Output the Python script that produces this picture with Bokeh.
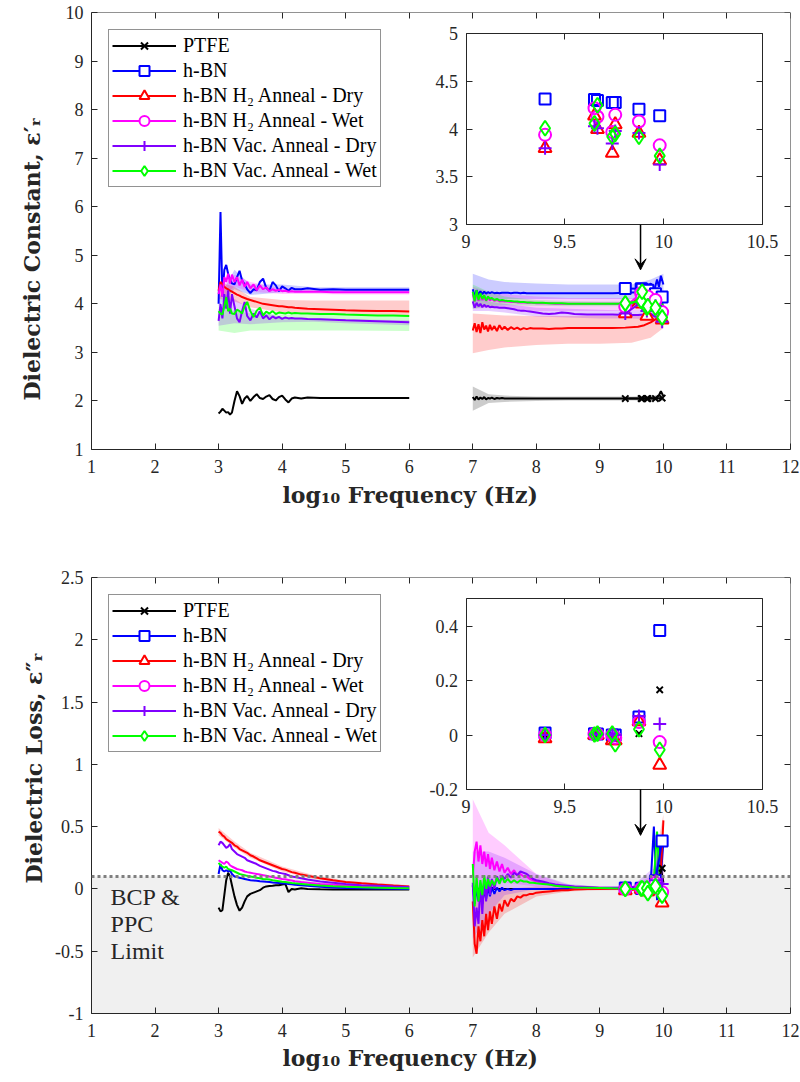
from bokeh.plotting import figure
from bokeh.models import (Range1d, LinearAxis, FixedTicker, Legend, LegendItem,
                          Span, Arrow, VeeHead, Label, Title)
from bokeh.layouts import column
from bokeh.embed import file_html
from bokeh.resources import INLINE

FONT = "Liberation Serif"
TITLE_FONT = "DejaVu Serif"
AXC = "#262626"

# ---------------- series meta ----------------
series_names = ["PTFE", "h-BN", "h-BN H₂ Anneal - Dry", "h-BN H₂ Anneal - Wet",
                "h-BN Vac. Anneal - Dry", "h-BN Vac. Anneal - Wet"]
series_colors = ["#000000", "#0000ff", "#ff0000", "#ff00ff", "#8000ff", "#00ff00"]
series_markers = ["x", "square", "triangle", "circle", "cross", "diamond"]
marker_sizes = [9, 11, 13, 12, 13, 15]

# ---------------- axes ----------------
X_LIM = (1, 12)
x_ticks = [1, 2, 3, 4, 5, 6, 7, 8, 9, 10, 11, 12]
x_tick_labels = ["1", "2", "3", "4", "5", "6", "7", "8", "9", "10", "11", "12"]
RE_Y_LIM = (1, 10)
re_y_ticks = [1, 2, 3, 4, 5, 6, 7, 8, 9, 10]
re_y_tick_labels = ["1", "2", "3", "4", "5", "6", "7", "8", "9", "10"]
IM_Y_LIM = (-1, 2.5)
im_y_ticks = [-1, -0.5, 0, 0.5, 1, 1.5, 2, 2.5]
im_y_tick_labels = ["-1", "-0.5", "0", "0.5", "1", "1.5", "2", "2.5"]
INSET_X_LIM = (9, 10.5)
inset_x_ticks = [9, 9.5, 10, 10.5]
inset_x_tick_labels = ["9", "9.5", "10", "10.5"]
RE_INSET_Y_LIM = (3, 5)
re_inset_y_ticks = [3, 3.5, 4, 4.5, 5]
re_inset_y_tick_labels = ["3", "3.5", "4", "4.5", "5"]
IM_INSET_Y_LIM = (-0.2, 0.5)
im_inset_y_ticks = [-0.2, 0, 0.2, 0.4]
im_inset_y_tick_labels = ["-0.2", "0", "0.2", "0.4"]
bcp_ppc_limit = 0.1

x_title = "log₁₀ Frequency (Hz)"
re_y_title = "Dielectric Constant, ε′ᵣ"
im_y_title = "Dielectric Loss, ε″ᵣ"

# ---------------- frequency grids ----------------
x_lo = [3.00, 3.03, 3.06, 3.09, 3.12, 3.15, 3.18, 3.21, 3.25, 3.29,
        3.33, 3.37, 3.41, 3.45, 3.50, 3.55, 3.60, 3.65, 3.70, 3.75,
        3.80, 3.85, 3.90, 3.95, 4.00, 4.05, 4.10, 4.15, 4.20, 4.30,
        4.40, 4.60, 4.80, 5.00, 5.25, 5.50, 5.75, 6.00]
x_hi = [7.00, 7.03, 7.06, 7.09, 7.12, 7.15, 7.18, 7.21, 7.24, 7.27,
        7.30, 7.34, 7.38, 7.42, 7.46, 7.50, 7.55, 7.60, 7.65, 7.70,
        7.75, 7.80, 7.85, 7.90, 7.95, 8.00, 8.10, 8.20, 8.30, 8.40,
        8.50, 8.60, 8.80, 9.00, 9.20, 9.40, 9.60, 9.70, 9.80, 9.85,
        9.90, 9.93, 9.96, 10.00]
x_cav = [9.40, 9.65, 9.665, 9.74, 9.755, 9.875, 9.98]
band_x_lo = [3.0, 3.25, 3.5, 4.0, 4.5, 5.0, 6.0]
band_x_hi = [7.0, 7.25, 7.5, 8.0, 8.5, 9.0, 9.5, 9.8, 10.0]

# ---------------- dielectric constant, low band ----------------
ptfe_re_lo = [1.74, 1.78, 1.84, 1.80, 1.76, 1.77, 1.72, 1.76, 2.00, 2.20,
              2.10, 1.94, 2.05, 2.10, 2.00, 2.08, 2.14, 2.06, 2.04, 2.09,
              2.12, 2.04, 2.01, 2.08, 2.11, 2.03, 1.97, 2.05, 2.07, 2.05,
              2.07, 2.06, 2.06, 2.06, 2.06, 2.06, 2.06, 2.06]
hbn_re_lo = [4.00, 5.89, 4.15, 4.70, 4.80, 4.62, 4.50, 4.42, 4.40, 4.55,
             4.68, 4.48, 4.40, 4.30, 4.22, 4.30, 4.28, 4.45, 4.52, 4.33,
             4.27, 4.45, 4.38, 4.26, 4.36, 4.32, 4.27, 4.33, 4.30, 4.30,
             4.32, 4.29, 4.30, 4.29, 4.29, 4.29, 4.29, 4.29]
h2dry_re_lo = [4.27, 4.45, 4.40, 4.35, 4.32, 4.30, 4.27, 4.25, 4.22, 4.19,
               4.17, 4.14, 4.12, 4.10, 4.08, 4.06, 4.04, 4.02, 4.00, 3.99,
               3.98, 3.97, 3.96, 3.95, 3.95, 3.94, 3.93, 3.93, 3.92, 3.91,
               3.90, 3.89, 3.88, 3.87, 3.86, 3.85, 3.85, 3.84]
h2wet_re_lo = [4.20, 4.40, 4.15, 4.55, 4.45, 4.62, 4.42, 4.60, 4.45, 4.55,
               4.38, 4.50, 4.35, 4.45, 4.32, 4.40, 4.28, 4.38, 4.30, 4.34,
               4.26, 4.30, 4.27, 4.29, 4.26, 4.27, 4.25, 4.26, 4.25, 4.25,
               4.25, 4.25, 4.24, 4.24, 4.24, 4.24, 4.24, 4.24]
vacdry_re_lo = [3.65, 4.00, 3.70, 4.20, 3.90, 4.28, 3.80, 4.20, 3.95, 3.70,
                3.62, 3.85, 4.04, 3.75, 3.66, 3.80, 3.72, 3.85, 3.70, 3.76,
                3.68, 3.74, 3.70, 3.73, 3.69, 3.72, 3.70, 3.71, 3.70, 3.70,
                3.69, 3.68, 3.67, 3.66, 3.65, 3.64, 3.63, 3.62]
vacwet_re_lo = [3.85, 3.80, 3.78, 3.95, 4.14, 3.85, 3.90, 3.80, 3.79, 3.88,
                3.85, 3.80, 3.95, 4.04, 3.85, 3.73, 3.86, 3.92, 3.76, 3.84,
                3.80, 3.85, 3.79, 3.82, 3.81, 3.80, 3.82, 3.80, 3.81, 3.80,
                3.80, 3.79, 3.79, 3.78, 3.77, 3.76, 3.76, 3.75]

# ---------------- dielectric constant, high band ----------------
ptfe_re_hi = [2.08, 2.02, 2.09, 2.03, 2.07, 2.04, 2.08, 2.03, 2.06, 2.05,
              2.07, 2.04, 2.06, 2.05, 2.06, 2.05, 2.05, 2.05, 2.05, 2.05,
              2.05, 2.05, 2.05, 2.05, 2.05, 2.05, 2.05, 2.05, 2.05, 2.05,
              2.05, 2.05, 2.05, 2.05, 2.05, 2.05, 2.05, 2.05, 2.06, 2.05,
              2.08, 2.12, 2.20, 2.10]
hbn_re_hi = [4.30, 4.15, 4.28, 4.18, 4.26, 4.20, 4.25, 4.21, 4.24, 4.22,
             4.24, 4.22, 4.23, 4.22, 4.23, 4.23, 4.23, 4.22, 4.23, 4.23,
             4.22, 4.23, 4.22, 4.22, 4.22, 4.22, 4.22, 4.22, 4.22, 4.22,
             4.22, 4.22, 4.22, 4.22, 4.22, 4.23, 4.24, 4.30, 4.42, 4.25,
             4.50, 4.35, 4.58, 4.40]
h2dry_re_hi = [3.45, 3.60, 3.42, 3.58, 3.40, 3.62, 3.47, 3.55, 3.43, 3.57,
               3.46, 3.54, 3.44, 3.56, 3.47, 3.53, 3.46, 3.52, 3.48, 3.51,
               3.47, 3.50, 3.48, 3.50, 3.49, 3.49, 3.49, 3.48, 3.49, 3.49,
               3.50, 3.50, 3.50, 3.50, 3.50, 3.51, 3.53, 3.56, 3.62, 3.66,
               3.70, 3.74, 3.72, 3.70]
h2wet_re_hi = [4.20, 4.05, 4.22, 4.06, 4.18, 4.08, 4.14, 4.06, 4.12, 4.07,
               4.10, 4.06, 4.08, 4.05, 4.06, 4.05, 4.05, 4.04, 4.04, 4.03,
               4.03, 4.03, 4.02, 4.02, 4.02, 4.01, 4.01, 4.01, 4.00, 4.00,
               4.00, 4.00, 4.00, 4.00, 4.00, 4.00, 4.01, 4.04, 4.08, 4.05,
               4.15, 4.10, 4.05, 3.95]
vacdry_re_hi = [4.05, 3.92, 4.02, 3.95, 4.00, 3.93, 3.98, 3.94, 3.96, 3.93,
                3.94, 3.93, 3.93, 3.92, 3.92, 3.92, 3.91, 3.90, 3.89, 3.87,
                3.86, 3.86, 3.85, 3.84, 3.83, 3.82, 3.80, 3.79, 3.80, 3.82,
                3.81, 3.79, 3.78, 3.78, 3.78, 3.77, 3.77, 3.78, 3.80, 3.75,
                3.72, 3.70, 3.68, 3.66]
vacwet_re_hi = [4.25, 4.05, 4.28, 4.08, 4.22, 4.10, 4.18, 4.07, 4.15, 4.10,
                4.12, 4.08, 4.10, 4.07, 4.08, 4.07, 4.06, 4.06, 4.05, 4.05,
                4.04, 4.04, 4.03, 4.03, 4.02, 4.02, 4.02, 4.01, 4.01, 4.01,
                4.00, 4.00, 4.00, 4.00, 4.00, 4.00, 4.02, 4.05, 4.10, 4.05,
                4.20, 4.30, 4.15, 3.90]

# ---------------- dielectric constant, cavity points ----------------
ptfe_re_cav = [2.05, 2.05, 2.05, 2.05, 2.05, 2.05, 2.06]
hbn_re_cav = [4.315, 4.31, 4.30, 4.28, 4.28, 4.21, 4.14]
h2dry_re_cav = [3.80, 4.14, 4.00, 3.75, 4.05, 3.96, 3.67]
h2wet_re_cav = [3.94, 4.22, 4.13, 3.97, 4.15, 4.08, 3.83]
vacdry_re_cav = [3.80, 4.03, 4.01, 3.85, 3.98, 3.96, 3.63]
vacwet_re_cav = [4.01, 4.06, 4.25, 3.92, 3.95, 3.92, 3.72]

# ---------------- dielectric constant, uncertainty bands ----------------
hbn_re_lo_band_lower = [3.95, 4.30, 4.18, 4.24, 4.24, 4.24, 4.24]
hbn_re_lo_band_upper = [4.10, 4.70, 4.40, 4.40, 4.34, 4.34, 4.34]
h2dry_re_lo_band_lower = [4.10, 4.05, 3.93, 3.82, 3.78, 3.77, 3.76]
h2dry_re_lo_band_upper = [4.45, 4.35, 4.14, 4.08, 4.07, 4.07, 4.07]
h2wet_re_lo_band_lower = [4.10, 4.35, 4.25, 4.20, 4.20, 4.19, 4.19]
h2wet_re_lo_band_upper = [4.30, 4.60, 4.45, 4.32, 4.29, 4.29, 4.29]
vacdry_re_lo_band_lower = [3.55, 3.60, 3.58, 3.62, 3.63, 3.60, 3.56]
vacdry_re_lo_band_upper = [3.80, 4.10, 3.90, 3.72, 3.70, 3.68, 3.66]
vacwet_re_lo_band_lower = [3.45, 3.40, 3.45, 3.45, 3.45, 3.45, 3.44]
vacwet_re_lo_band_upper = [3.95, 3.85, 3.80, 3.78, 3.78, 3.77, 3.76]

ptfe_re_hi_band_lower = [1.80, 1.96, 1.98, 2.00, 2.01, 2.01, 2.01, 2.01, 2.00]
ptfe_re_hi_band_upper = [2.30, 2.14, 2.11, 2.09, 2.09, 2.09, 2.09, 2.10, 2.15]
hbn_re_hi_band_lower = [4.05, 4.08, 4.10, 4.10, 4.10, 4.10, 4.10, 4.12, 4.20]
hbn_re_hi_band_upper = [4.62, 4.50, 4.45, 4.42, 4.40, 4.40, 4.40, 4.50, 4.62]
h2dry_re_hi_band_lower = [2.98, 3.05, 3.10, 3.15, 3.18, 3.18, 3.20, 3.30, 3.50]
h2dry_re_hi_band_upper = [3.80, 3.78, 3.76, 3.75, 3.75, 3.75, 3.76, 3.80, 3.85]
h2wet_re_hi_band_lower = [3.90, 3.92, 3.90, 3.85, 3.85, 3.85, 3.85, 3.85, 3.80]
h2wet_re_hi_band_upper = [4.35, 4.25, 4.20, 4.15, 4.12, 4.12, 4.12, 4.15, 4.20]
vacdry_re_hi_band_lower = [3.85, 3.85, 3.82, 3.74, 3.72, 3.70, 3.70, 3.68, 3.60]
vacdry_re_hi_band_upper = [4.15, 4.05, 4.00, 3.92, 3.90, 3.88, 3.86, 3.86, 3.75]
vacwet_re_hi_band_lower = [3.90, 3.95, 3.97, 3.96, 3.95, 3.95, 3.95, 3.95, 3.80]
vacwet_re_hi_band_upper = [4.40, 4.25, 4.15, 4.08, 4.06, 4.05, 4.05, 4.10, 4.20]

# ---------------- dielectric loss, low band ----------------
ptfe_im_lo = [-0.15, -0.18, -0.17, -0.05, 0.07, 0.13, 0.10, 0.03, -0.06, -0.13,
              -0.175, -0.15, -0.10, -0.06, -0.04, -0.03, -0.02, -0.01, 0.01, 0.02,
              0.024, 0.026, 0.03, 0.03, 0.035, 0.04, -0.025, 0.0, -0.005, 0.005,
              0.0, -0.003, -0.004, -0.005, -0.005, -0.005, -0.005, -0.005]
hbn_im_lo = [0.12, 0.20, 0.15, 0.14, 0.15, 0.14, 0.15, 0.12, 0.10, 0.095,
             0.09, 0.085, 0.08, 0.075, 0.07, 0.068, 0.065, 0.062, 0.06, 0.057,
             0.055, 0.052, 0.05, 0.048, 0.046, 0.043, 0.04, 0.037, 0.034, 0.03,
             0.025, 0.018, 0.012, 0.008, 0.005, 0.003, 0.001, 0.0]
h2dry_im_lo = [0.46, 0.45, 0.43, 0.42, 0.40, 0.39, 0.38, 0.37, 0.35, 0.34,
               0.32, 0.31, 0.30, 0.29, 0.27, 0.26, 0.245, 0.23, 0.22, 0.21,
               0.20, 0.19, 0.18, 0.17, 0.16, 0.155, 0.145, 0.135, 0.13, 0.115,
               0.105, 0.085, 0.07, 0.056, 0.045, 0.035, 0.027, 0.02]
h2wet_im_lo = [0.23, 0.22, 0.21, 0.20, 0.22, 0.21, 0.19, 0.18, 0.17, 0.16,
               0.155, 0.15, 0.14, 0.135, 0.13, 0.125, 0.12, 0.115, 0.11, 0.105,
               0.10, 0.095, 0.09, 0.085, 0.08, 0.077, 0.072, 0.067, 0.062, 0.055,
               0.05, 0.04, 0.033, 0.028, 0.022, 0.018, 0.015, 0.012]
vacdry_im_lo = [0.35, 0.38, 0.37, 0.35, 0.33, 0.34, 0.36, 0.32, 0.30, 0.28,
                0.27, 0.26, 0.25, 0.23, 0.22, 0.21, 0.20, 0.185, 0.175, 0.165,
                0.155, 0.145, 0.14, 0.13, 0.125, 0.12, 0.11, 0.10, 0.095, 0.085,
                0.075, 0.06, 0.05, 0.04, 0.03, 0.025, 0.02, 0.016]
vacwet_im_lo = [0.21, 0.19, 0.18, 0.17, 0.18, 0.16, 0.155, 0.15, 0.14, 0.13,
                0.12, 0.115, 0.11, 0.105, 0.10, 0.095, 0.09, 0.085, 0.08, 0.078,
                0.075, 0.07, 0.066, 0.062, 0.058, 0.055, 0.052, 0.048, 0.045, 0.04,
                0.035, 0.028, 0.022, 0.018, 0.013, 0.01, 0.007, 0.005]

# ---------------- dielectric loss, high band ----------------
ptfe_im_hi = [0.02, -0.05, 0.03, -0.03, 0.02, -0.02, 0.02, -0.01, 0.01, -0.01,
              0.01, 0.0, 0.0, 0.0, 0.0, 0.0, 0.0, 0.0, 0.0, 0.0,
              0.0, 0.0, 0.0, 0.0, 0.0, 0.0, 0.0, 0.0, 0.0, 0.0,
              0.0, 0.0, 0.0, 0.0, 0.0, 0.0, 0.0, 0.0, 0.0, 0.0,
              0.02, 0.05, 0.17, 0.05]
hbn_im_hi = [0.03, -0.12, 0.02, -0.10, -0.02, -0.12, 0.0, -0.08, 0.02, -0.06,
             0.01, -0.04, 0.01, -0.02, 0.01, -0.01, 0.0, -0.01, 0.0, 0.0,
             0.0, 0.0, 0.0, 0.0, 0.0, 0.0, 0.0, 0.0, 0.0, 0.0,
             0.0, 0.0, 0.0, 0.0, 0.0, 0.0, 0.01, -0.05, 0.05, 0.50,
             -0.09, 0.40, 0.10, 0.38]
h2dry_im_hi = [-0.10, -0.44, -0.52, -0.30, -0.42, -0.25, -0.38, -0.20, -0.33, -0.18,
               -0.28, -0.14, -0.24, -0.12, -0.18, -0.09, -0.14, -0.08, -0.10, -0.06,
               -0.07, -0.05, -0.05, -0.04, -0.04, -0.03, -0.025, -0.02, -0.015, -0.01,
               -0.01, -0.005, 0.0, 0.0, 0.0, 0.0, 0.0, 0.0, 0.01, 0.02,
               0.05, 0.03, 0.15, 0.55]
h2wet_im_hi = [0.10, 0.30, 0.38, 0.22, 0.35, 0.20, 0.30, 0.18, 0.28, 0.16,
               0.25, 0.15, 0.22, 0.14, 0.20, 0.13, 0.17, 0.12, 0.15, 0.11,
               0.12, 0.10, 0.10, 0.08, 0.07, 0.06, 0.05, 0.035, 0.025, 0.02,
               0.015, 0.012, 0.01, 0.008, 0.006, 0.005, 0.005, 0.01, 0.03, 0.05,
               0.08, 0.12, 0.05, 0.0]
vacdry_im_hi = [0.05, -0.30, -0.15, -0.28, 0.05, -0.20, 0.08, -0.10, 0.10, -0.05,
                0.08, 0.0, 0.10, 0.05, 0.11, 0.08, 0.12, 0.09, 0.13, 0.11,
                0.14, 0.13, 0.12, 0.10, 0.08, 0.07, 0.06, 0.045, 0.035, 0.03,
                0.025, 0.02, 0.015, 0.01, 0.01, 0.01, 0.02, 0.03, 0.06, 0.08,
                0.12, 0.15, 0.08, 0.04]
vacwet_im_hi = [0.20, -0.14, 0.10, -0.10, 0.07, -0.05, 0.11, 0.0, 0.08, 0.02,
                0.07, 0.03, 0.09, 0.04, 0.10, 0.05, 0.08, 0.05, 0.07, 0.05,
                0.07, 0.06, 0.06, 0.05, 0.05, 0.045, 0.04, 0.035, 0.025, 0.02,
                0.015, 0.012, 0.01, 0.008, 0.005, 0.003, 0.003, 0.01, 0.03, 0.07,
                0.46, 0.18, 0.0, -0.02]

# ---------------- dielectric loss, cavity points ----------------
ptfe_im_cav = [0.0, 0.0, 0.0, 0.0, 0.0, 0.005, 0.166]
hbn_im_cav = [0.007, 0.005, 0.004, 0.0, 0.0, 0.066, 0.384]
h2dry_im_cav = [-0.013, 0.0, 0.0, -0.02, -0.02, 0.05, -0.11]
h2wet_im_cav = [0.0, 0.003, 0.003, 0.0, -0.01, 0.048, -0.026]
vacdry_im_cav = [0.0, 0.002, 0.002, 0.005, 0.0, 0.07, 0.04]
vacwet_im_cav = [0.0, 0.002, 0.005, 0.005, -0.034, 0.021, -0.054]

# ---------------- dielectric loss, uncertainty bands ----------------
h2dry_im_lo_band_lower = [0.43, 0.33, 0.25, 0.14, 0.08, 0.045, 0.01]
h2dry_im_lo_band_upper = [0.49, 0.38, 0.29, 0.18, 0.11, 0.065, 0.03]
h2dry_im_hi_band_lower = [-0.55, -0.35, -0.20, -0.06, -0.02, -0.01, -0.01, -0.02, -0.10]
h2dry_im_hi_band_upper = [0.00, -0.05, 0.00, 0.02, 0.01, 0.01, 0.01, 0.05, 0.60]
h2wet_im_hi_band_lower = [0.00, 0.05, 0.05, 0.02, 0.00, 0.00, 0.00, 0.00, -0.05]
h2wet_im_hi_band_upper = [0.72, 0.45, 0.35, 0.12, 0.03, 0.02, 0.02, 0.10, 0.15]
vacdry_im_hi_band_lower = [-0.40, -0.20, -0.05, 0.00, 0.00, 0.00, 0.00, 0.00, -0.05]
vacdry_im_hi_band_upper = [0.30, 0.30, 0.25, 0.12, 0.04, 0.02, 0.02, 0.15, 0.20]

# ---------------- annotation constants (data coordinates) ----------------
re_arrow = (9.64, 5.63, 9.64, 4.70)
im_arrow = (9.64, 0.80, 9.64, 0.43)
limit_text_lines = ["BCP &", "PPC", "Limit"]
limit_text_x = 1.30
limit_text_y = [-0.065, -0.28, -0.495]

FW = 699


def style_axis(ax, ticks, labels, show_labels=True, standoff=8):
    ax.ticker = FixedTicker(ticks=ticks)
    ax.major_label_overrides = {t: (l if show_labels else "") for t, l in zip(ticks, labels)}
    ax.major_tick_in = 6
    ax.major_tick_out = 0
    ax.minor_tick_in = 0
    ax.minor_tick_out = 0
    ax.axis_line_color = AXC
    ax.axis_line_width = 1
    ax.major_tick_line_color = AXC
    ax.major_label_text_font = FONT
    ax.major_label_text_font_size = "18px"
    ax.major_label_text_color = AXC
    ax.major_label_standoff = standoff


def side_title(text, offset, standoff):
    return Title(text=text, align="left", vertical_align="middle", offset=offset,
                 standoff=standoff, text_font=TITLE_FONT, text_font_style="bold",
                 text_font_size="22px", text_color=AXC)


def build_panel(ylim, yticks, ylabels, frame_h, top_b, bot_b,
                ylabel, ytitle_offset, ytitle_standoff, xtitle_offset, xtitle_standoff,
                lo_vals, hi_vals, cav_vals, bands, inset_box, inset_ylim,
                inset_yticks, inset_ylabels, arrow, shade_limit=False):
    p = figure(frame_width=FW, frame_height=frame_h,
               x_range=Range1d(X_LIM[0], X_LIM[1]), y_range=Range1d(ylim[0], ylim[1]),
               output_backend="svg", toolbar_location=None,
               min_border_left=91, min_border_right=10,
               min_border_top=top_b, min_border_bottom=bot_b,
               background_fill_color="white", border_fill_color="white")
    p.outline_line_color = None
    p.xgrid.visible = False
    p.ygrid.visible = False

    xa = p.xaxis[0]
    ya = p.yaxis[0]
    style_axis(xa, x_ticks, x_tick_labels, standoff=10)
    style_axis(ya, yticks, ylabels, standoff=8)

    # axis titles as side-panel titles (slightly off-centre like the reference)
    p.add_layout(side_title(x_title, xtitle_offset, xtitle_standoff), "below")
    p.add_layout(side_title(ylabel, ytitle_offset, ytitle_standoff), "left")

    ra = LinearAxis(fixed_location=X_LIM[1])
    style_axis(ra, yticks, ylabels, show_labels=False)
    p.add_layout(ra, "right")
    ta = LinearAxis(fixed_location=ylim[1])
    style_axis(ta, x_ticks, x_tick_labels, show_labels=False)
    p.add_layout(ta, "above")

    if shade_limit:
        p.quad(left=[X_LIM[0]], right=[X_LIM[1]], bottom=[ylim[0]], top=[bcp_ppc_limit],
               fill_color="#f0f0f0", line_color=None)
        p.add_layout(Span(location=bcp_ppc_limit, dimension="width", line_color="#7f7f7f",
                          line_width=3, line_dash="3 3"))
        for txt, yy in zip(limit_text_lines, limit_text_y):
            p.add_layout(Label(x=limit_text_x, y=yy, text=txt, text_font=FONT,
                               text_font_size="24px", text_color=AXC,
                               text_baseline="middle", text_align="left"))

    # uncertainty bands
    for bx, lo, up, col in bands:
        p.varea(x=bx, y1=lo, y2=up, fill_color=col, fill_alpha=0.2)

    # broadband lines
    for i in range(6):
        c = series_colors[i]
        p.line(x_lo, lo_vals[i], line_color=c, line_width=2)
        p.line(x_hi, hi_vals[i], line_color=c, line_width=2)

    # cavity points with lines (these carry the legend)
    items = []
    for i in range(6):
        c = series_colors[i]
        rl = p.line(x_cav, cav_vals[i], line_color=c, line_width=2)
        rs = p.scatter(x_cav, cav_vals[i], marker=series_markers[i], size=marker_sizes[i],
                       line_color=c, fill_color="white", line_width=2)
        items.append(LegendItem(label=series_names[i], renderers=[rl, rs]))

    leg = Legend(items=items, location="top_left", margin=17,
                 label_text_font=FONT, label_text_font_size="20px", label_text_color="black",
                 border_line_color=AXC, border_line_width=1, background_fill_alpha=1,
                 padding=3, spacing=0, glyph_width=64, glyph_height=25,
                 label_height=20, label_standoff=7)
    p.add_layout(leg)

    # inset mapped through extra ranges
    l, r, t, b = inset_box
    sx = (INSET_X_LIM[1] - INSET_X_LIM[0]) / (r - l)
    sy = (inset_ylim[1] - inset_ylim[0]) / (b - t)
    p.extra_x_ranges = {"ix": Range1d(INSET_X_LIM[0] - l * sx, INSET_X_LIM[1] + (FW - r) * sx)}
    p.extra_y_ranges = {"iy": Range1d(inset_ylim[0] - (frame_h - b) * sy, inset_ylim[1] + t * sy)}
    p.quad(left=[INSET_X_LIM[0]], right=[INSET_X_LIM[1]], bottom=[inset_ylim[0]],
           top=[inset_ylim[1]], fill_color="white", line_color=None,
           x_range_name="ix", y_range_name="iy")
    for i in range(6):
        xs = [x for x, v in zip(x_cav, cav_vals[i]) if inset_ylim[0] <= v <= inset_ylim[1]]
        vs = [v for v in cav_vals[i] if inset_ylim[0] <= v <= inset_ylim[1]]
        if xs:
            p.scatter(xs, vs, marker=series_markers[i], size=marker_sizes[i],
                      line_color=series_colors[i], fill_color=None, line_width=2,
                      x_range_name="ix", y_range_name="iy")

    ib = LinearAxis(x_range_name="ix", y_range_name="iy", fixed_location=inset_ylim[0],
                    bounds=INSET_X_LIM)
    style_axis(ib, inset_x_ticks, inset_x_tick_labels, standoff=10)
    p.add_layout(ib, "below")
    it = LinearAxis(x_range_name="ix", y_range_name="iy", fixed_location=inset_ylim[1],
                    bounds=INSET_X_LIM)
    style_axis(it, inset_x_ticks, inset_x_tick_labels, show_labels=False)
    p.add_layout(it, "above")
    il = LinearAxis(x_range_name="ix", y_range_name="iy", fixed_location=INSET_X_LIM[0],
                    bounds=inset_ylim)
    style_axis(il, inset_yticks, inset_ylabels, standoff=8)
    p.add_layout(il, "left")
    ir = LinearAxis(x_range_name="ix", y_range_name="iy", fixed_location=INSET_X_LIM[1],
                    bounds=inset_ylim)
    style_axis(ir, inset_yticks, inset_ylabels, show_labels=False)
    p.add_layout(ir, "right")

    x0, y0, x1, y1 = arrow
    p.add_layout(Arrow(end=VeeHead(size=11, fill_color="black", line_color="black"),
                       x_start=x0, y_start=y0, x_end=x1, y_end=y1,
                       line_color="black", line_width=1.5))
    return p


re_bands = [
    (band_x_lo, vacwet_re_lo_band_lower, vacwet_re_lo_band_upper, series_colors[5]),
    (band_x_lo, vacdry_re_lo_band_lower, vacdry_re_lo_band_upper, series_colors[4]),
    (band_x_lo, hbn_re_lo_band_lower, hbn_re_lo_band_upper, series_colors[1]),
    (band_x_lo, h2wet_re_lo_band_lower, h2wet_re_lo_band_upper, series_colors[3]),
    (band_x_lo, h2dry_re_lo_band_lower, h2dry_re_lo_band_upper, series_colors[2]),
    (band_x_hi, ptfe_re_hi_band_lower, ptfe_re_hi_band_upper, series_colors[0]),
    (band_x_hi, hbn_re_hi_band_lower, hbn_re_hi_band_upper, series_colors[1]),
    (band_x_hi, h2dry_re_hi_band_lower, h2dry_re_hi_band_upper, series_colors[2]),
    (band_x_hi, h2wet_re_hi_band_lower, h2wet_re_hi_band_upper, series_colors[3]),
    (band_x_hi, vacdry_re_hi_band_lower, vacdry_re_hi_band_upper, series_colors[4]),
    (band_x_hi, vacwet_re_hi_band_lower, vacwet_re_hi_band_upper, series_colors[5]),
]
im_bands = [
    (band_x_lo, h2dry_im_lo_band_lower, h2dry_im_lo_band_upper, series_colors[2]),
    (band_x_hi, h2dry_im_hi_band_lower, h2dry_im_hi_band_upper, series_colors[2]),
    (band_x_hi, h2wet_im_hi_band_lower, h2wet_im_hi_band_upper, series_colors[3]),
    (band_x_hi, vacdry_im_hi_band_lower, vacdry_im_hi_band_upper, series_colors[4]),
]

INSET_BOX = (374.5, 671.0, 21.3, 212.0)

p_top = build_panel(
    RE_Y_LIM, re_y_ticks, re_y_tick_labels, 437, 12, 118,
    re_y_title, 49, 33, 191, 10,
    [ptfe_re_lo, hbn_re_lo, h2dry_re_lo, h2wet_re_lo, vacdry_re_lo, vacwet_re_lo],
    [ptfe_re_hi, hbn_re_hi, h2dry_re_hi, h2wet_re_hi, vacdry_re_hi, vacwet_re_hi],
    [ptfe_re_cav, hbn_re_cav, h2dry_re_cav, h2wet_re_cav, vacdry_re_cav, vacwet_re_cav],
    re_bands, INSET_BOX, RE_INSET_Y_LIM,
    re_inset_y_ticks, re_inset_y_tick_labels, re_arrow)

p_bot = build_panel(
    IM_Y_LIM, im_y_ticks, im_y_tick_labels, 436, 10, 69,
    im_y_title, 130, 9, 191, 8,
    [ptfe_im_lo, hbn_im_lo, h2dry_im_lo, h2wet_im_lo, vacdry_im_lo, vacwet_im_lo],
    [ptfe_im_hi, hbn_im_hi, h2dry_im_hi, h2wet_im_hi, vacdry_im_hi, vacwet_im_hi],
    [ptfe_im_cav, hbn_im_cav, h2dry_im_cav, h2wet_im_cav, vacdry_im_cav, vacwet_im_cav],
    im_bands, INSET_BOX, IM_INSET_Y_LIM,
    im_inset_y_ticks, im_inset_y_tick_labels, im_arrow, shade_limit=True)

layout = column(p_top, p_bot, spacing=0)
open("out.html", "w").write(file_html(layout, INLINE))
